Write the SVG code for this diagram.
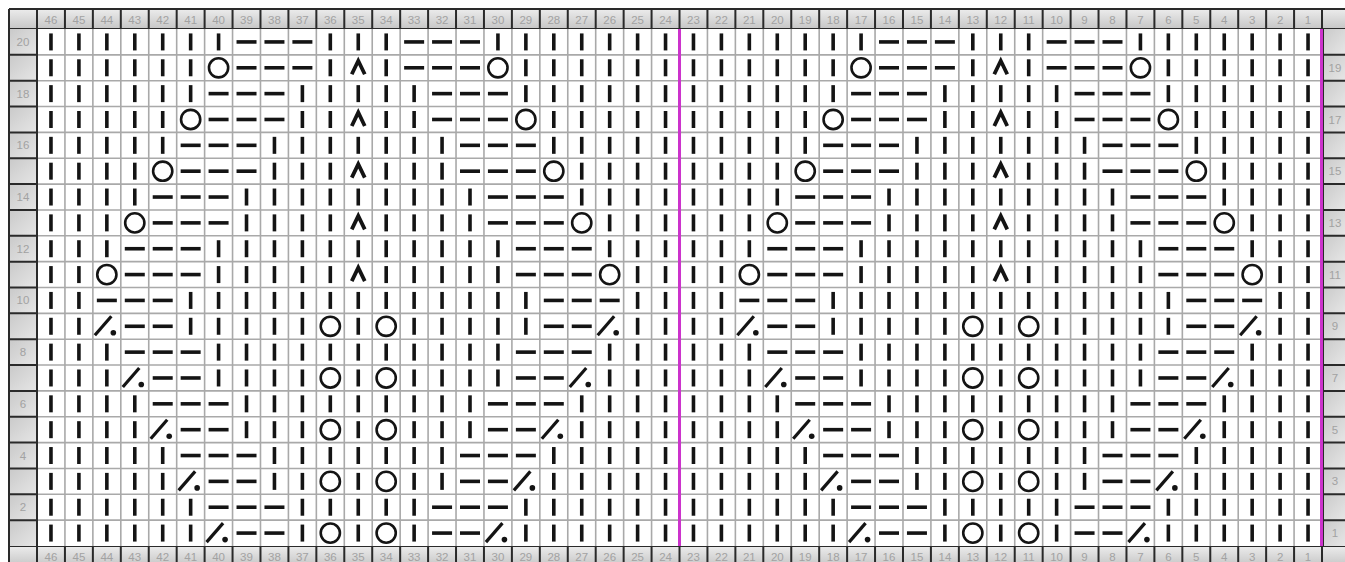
<svg xmlns="http://www.w3.org/2000/svg" xmlns:xlink="http://www.w3.org/1999/xlink" width="1345" height="562" viewBox="0 0 1345 562">
<style>
.sym{stroke:#141414;fill:none;stroke-width:3.6}
.num{font-family:"Liberation Sans",Arial,sans-serif;font-size:11.5px;fill:#a2a2a2;text-anchor:middle}
.dark{stroke:#2a2a2a;stroke-width:2;fill:none}
.grid{stroke:#a9a9a9;stroke-width:1.6;fill:none}
.mag{stroke:#cc33cc;stroke-width:3;fill:none}
</style>
<defs>
<linearGradient id="gh" x1="0" y1="0" x2="0" y2="1"><stop offset="0" stop-color="#ececec"/><stop offset="1" stop-color="#c6c6c6"/></linearGradient>
<linearGradient id="gs" x1="0" y1="0" x2="1" y2="1"><stop offset="0" stop-color="#c9c9c9"/><stop offset="1" stop-color="#e6e6e6"/></linearGradient>
<path id="k" class="sym" d="M0,-8.5V8.5"/>
<path id="p" class="sym" d="M-10,0H10"/>
<circle id="o" class="sym" r="9.6" style="stroke-width:2.6"/>
<path id="d" class="sym" d="M-6.5,6.5L0,-7L6.5,6.5" style="stroke-width:3.8;stroke-linejoin:miter"/>
<g id="s"><path class="sym" d="M-12,9L4.5,-10" style="stroke-width:3.2"/><circle cx="6.5" cy="6.5" r="2.8" fill="#141414"/></g>

<g id="r20"><use href="#k" x="0"/><use href="#k" x="27.94"/><use href="#k" x="55.87"/><use href="#k" x="83.81"/><use href="#k" x="111.74"/><use href="#k" x="139.68"/><use href="#k" x="167.61"/><use href="#p" x="195.55"/><use href="#p" x="223.48"/><use href="#p" x="251.42"/><use href="#k" x="279.35"/><use href="#k" x="307.29"/><use href="#k" x="335.22"/><use href="#p" x="363.16"/><use href="#p" x="391.09"/><use href="#p" x="419.03"/><use href="#k" x="446.96"/><use href="#k" x="474.90"/><use href="#k" x="502.83"/><use href="#k" x="530.77"/><use href="#k" x="558.70"/><use href="#k" x="586.64"/><use href="#k" x="614.57"/></g>

<g id="r19"><use href="#k" x="0"/><use href="#k" x="27.94"/><use href="#k" x="55.87"/><use href="#k" x="83.81"/><use href="#k" x="111.74"/><use href="#k" x="139.68"/><use href="#o" x="167.61"/><use href="#p" x="195.55"/><use href="#p" x="223.48"/><use href="#p" x="251.42"/><use href="#k" x="279.35"/><use href="#d" x="307.29"/><use href="#k" x="335.22"/><use href="#p" x="363.16"/><use href="#p" x="391.09"/><use href="#p" x="419.03"/><use href="#o" x="446.96"/><use href="#k" x="474.90"/><use href="#k" x="502.83"/><use href="#k" x="530.77"/><use href="#k" x="558.70"/><use href="#k" x="586.64"/><use href="#k" x="614.57"/></g>

<g id="r18"><use href="#k" x="0"/><use href="#k" x="27.94"/><use href="#k" x="55.87"/><use href="#k" x="83.81"/><use href="#k" x="111.74"/><use href="#k" x="139.68"/><use href="#p" x="167.61"/><use href="#p" x="195.55"/><use href="#p" x="223.48"/><use href="#k" x="251.42"/><use href="#k" x="279.35"/><use href="#k" x="307.29"/><use href="#k" x="335.22"/><use href="#k" x="363.16"/><use href="#p" x="391.09"/><use href="#p" x="419.03"/><use href="#p" x="446.96"/><use href="#k" x="474.90"/><use href="#k" x="502.83"/><use href="#k" x="530.77"/><use href="#k" x="558.70"/><use href="#k" x="586.64"/><use href="#k" x="614.57"/></g>

<g id="r17"><use href="#k" x="0"/><use href="#k" x="27.94"/><use href="#k" x="55.87"/><use href="#k" x="83.81"/><use href="#k" x="111.74"/><use href="#o" x="139.68"/><use href="#p" x="167.61"/><use href="#p" x="195.55"/><use href="#p" x="223.48"/><use href="#k" x="251.42"/><use href="#k" x="279.35"/><use href="#d" x="307.29"/><use href="#k" x="335.22"/><use href="#k" x="363.16"/><use href="#p" x="391.09"/><use href="#p" x="419.03"/><use href="#p" x="446.96"/><use href="#o" x="474.90"/><use href="#k" x="502.83"/><use href="#k" x="530.77"/><use href="#k" x="558.70"/><use href="#k" x="586.64"/><use href="#k" x="614.57"/></g>

<g id="r16"><use href="#k" x="0"/><use href="#k" x="27.94"/><use href="#k" x="55.87"/><use href="#k" x="83.81"/><use href="#k" x="111.74"/><use href="#p" x="139.68"/><use href="#p" x="167.61"/><use href="#p" x="195.55"/><use href="#k" x="223.48"/><use href="#k" x="251.42"/><use href="#k" x="279.35"/><use href="#k" x="307.29"/><use href="#k" x="335.22"/><use href="#k" x="363.16"/><use href="#k" x="391.09"/><use href="#p" x="419.03"/><use href="#p" x="446.96"/><use href="#p" x="474.90"/><use href="#k" x="502.83"/><use href="#k" x="530.77"/><use href="#k" x="558.70"/><use href="#k" x="586.64"/><use href="#k" x="614.57"/></g>

<g id="r15"><use href="#k" x="0"/><use href="#k" x="27.94"/><use href="#k" x="55.87"/><use href="#k" x="83.81"/><use href="#o" x="111.74"/><use href="#p" x="139.68"/><use href="#p" x="167.61"/><use href="#p" x="195.55"/><use href="#k" x="223.48"/><use href="#k" x="251.42"/><use href="#k" x="279.35"/><use href="#d" x="307.29"/><use href="#k" x="335.22"/><use href="#k" x="363.16"/><use href="#k" x="391.09"/><use href="#p" x="419.03"/><use href="#p" x="446.96"/><use href="#p" x="474.90"/><use href="#o" x="502.83"/><use href="#k" x="530.77"/><use href="#k" x="558.70"/><use href="#k" x="586.64"/><use href="#k" x="614.57"/></g>

<g id="r14"><use href="#k" x="0"/><use href="#k" x="27.94"/><use href="#k" x="55.87"/><use href="#k" x="83.81"/><use href="#p" x="111.74"/><use href="#p" x="139.68"/><use href="#p" x="167.61"/><use href="#k" x="195.55"/><use href="#k" x="223.48"/><use href="#k" x="251.42"/><use href="#k" x="279.35"/><use href="#k" x="307.29"/><use href="#k" x="335.22"/><use href="#k" x="363.16"/><use href="#k" x="391.09"/><use href="#k" x="419.03"/><use href="#p" x="446.96"/><use href="#p" x="474.90"/><use href="#p" x="502.83"/><use href="#k" x="530.77"/><use href="#k" x="558.70"/><use href="#k" x="586.64"/><use href="#k" x="614.57"/></g>

<g id="r13"><use href="#k" x="0"/><use href="#k" x="27.94"/><use href="#k" x="55.87"/><use href="#o" x="83.81"/><use href="#p" x="111.74"/><use href="#p" x="139.68"/><use href="#p" x="167.61"/><use href="#k" x="195.55"/><use href="#k" x="223.48"/><use href="#k" x="251.42"/><use href="#k" x="279.35"/><use href="#d" x="307.29"/><use href="#k" x="335.22"/><use href="#k" x="363.16"/><use href="#k" x="391.09"/><use href="#k" x="419.03"/><use href="#p" x="446.96"/><use href="#p" x="474.90"/><use href="#p" x="502.83"/><use href="#o" x="530.77"/><use href="#k" x="558.70"/><use href="#k" x="586.64"/><use href="#k" x="614.57"/></g>

<g id="r12"><use href="#k" x="0"/><use href="#k" x="27.94"/><use href="#k" x="55.87"/><use href="#p" x="83.81"/><use href="#p" x="111.74"/><use href="#p" x="139.68"/><use href="#k" x="167.61"/><use href="#k" x="195.55"/><use href="#k" x="223.48"/><use href="#k" x="251.42"/><use href="#k" x="279.35"/><use href="#k" x="307.29"/><use href="#k" x="335.22"/><use href="#k" x="363.16"/><use href="#k" x="391.09"/><use href="#k" x="419.03"/><use href="#k" x="446.96"/><use href="#p" x="474.90"/><use href="#p" x="502.83"/><use href="#p" x="530.77"/><use href="#k" x="558.70"/><use href="#k" x="586.64"/><use href="#k" x="614.57"/></g>

<g id="r11"><use href="#k" x="0"/><use href="#k" x="27.94"/><use href="#o" x="55.87"/><use href="#p" x="83.81"/><use href="#p" x="111.74"/><use href="#p" x="139.68"/><use href="#k" x="167.61"/><use href="#k" x="195.55"/><use href="#k" x="223.48"/><use href="#k" x="251.42"/><use href="#k" x="279.35"/><use href="#d" x="307.29"/><use href="#k" x="335.22"/><use href="#k" x="363.16"/><use href="#k" x="391.09"/><use href="#k" x="419.03"/><use href="#k" x="446.96"/><use href="#p" x="474.90"/><use href="#p" x="502.83"/><use href="#p" x="530.77"/><use href="#o" x="558.70"/><use href="#k" x="586.64"/><use href="#k" x="614.57"/></g>

<g id="r10"><use href="#k" x="0"/><use href="#k" x="27.94"/><use href="#p" x="55.87"/><use href="#p" x="83.81"/><use href="#p" x="111.74"/><use href="#k" x="139.68"/><use href="#k" x="167.61"/><use href="#k" x="195.55"/><use href="#k" x="223.48"/><use href="#k" x="251.42"/><use href="#k" x="279.35"/><use href="#k" x="307.29"/><use href="#k" x="335.22"/><use href="#k" x="363.16"/><use href="#k" x="391.09"/><use href="#k" x="419.03"/><use href="#k" x="446.96"/><use href="#k" x="474.90"/><use href="#p" x="502.83"/><use href="#p" x="530.77"/><use href="#p" x="558.70"/><use href="#k" x="586.64"/><use href="#k" x="614.57"/></g>

<g id="r9"><use href="#k" x="0"/><use href="#k" x="27.94"/><use href="#s" x="55.87"/><use href="#p" x="83.81"/><use href="#p" x="111.74"/><use href="#k" x="139.68"/><use href="#k" x="167.61"/><use href="#k" x="195.55"/><use href="#k" x="223.48"/><use href="#k" x="251.42"/><use href="#o" x="279.35"/><use href="#k" x="307.29"/><use href="#o" x="335.22"/><use href="#k" x="363.16"/><use href="#k" x="391.09"/><use href="#k" x="419.03"/><use href="#k" x="446.96"/><use href="#k" x="474.90"/><use href="#p" x="502.83"/><use href="#p" x="530.77"/><use href="#s" x="558.70"/><use href="#k" x="586.64"/><use href="#k" x="614.57"/></g>

<g id="r7"><use href="#k" x="0"/><use href="#k" x="27.94"/><use href="#k" x="55.87"/><use href="#s" x="83.81"/><use href="#p" x="111.74"/><use href="#p" x="139.68"/><use href="#k" x="167.61"/><use href="#k" x="195.55"/><use href="#k" x="223.48"/><use href="#k" x="251.42"/><use href="#o" x="279.35"/><use href="#k" x="307.29"/><use href="#o" x="335.22"/><use href="#k" x="363.16"/><use href="#k" x="391.09"/><use href="#k" x="419.03"/><use href="#k" x="446.96"/><use href="#p" x="474.90"/><use href="#p" x="502.83"/><use href="#s" x="530.77"/><use href="#k" x="558.70"/><use href="#k" x="586.64"/><use href="#k" x="614.57"/></g>

<g id="r5"><use href="#k" x="0"/><use href="#k" x="27.94"/><use href="#k" x="55.87"/><use href="#k" x="83.81"/><use href="#s" x="111.74"/><use href="#p" x="139.68"/><use href="#p" x="167.61"/><use href="#k" x="195.55"/><use href="#k" x="223.48"/><use href="#k" x="251.42"/><use href="#o" x="279.35"/><use href="#k" x="307.29"/><use href="#o" x="335.22"/><use href="#k" x="363.16"/><use href="#k" x="391.09"/><use href="#k" x="419.03"/><use href="#p" x="446.96"/><use href="#p" x="474.90"/><use href="#s" x="502.83"/><use href="#k" x="530.77"/><use href="#k" x="558.70"/><use href="#k" x="586.64"/><use href="#k" x="614.57"/></g>

<g id="r3"><use href="#k" x="0"/><use href="#k" x="27.94"/><use href="#k" x="55.87"/><use href="#k" x="83.81"/><use href="#k" x="111.74"/><use href="#s" x="139.68"/><use href="#p" x="167.61"/><use href="#p" x="195.55"/><use href="#k" x="223.48"/><use href="#k" x="251.42"/><use href="#o" x="279.35"/><use href="#k" x="307.29"/><use href="#o" x="335.22"/><use href="#k" x="363.16"/><use href="#k" x="391.09"/><use href="#p" x="419.03"/><use href="#p" x="446.96"/><use href="#s" x="474.90"/><use href="#k" x="502.83"/><use href="#k" x="530.77"/><use href="#k" x="558.70"/><use href="#k" x="586.64"/><use href="#k" x="614.57"/></g>

<g id="r1"><use href="#k" x="0"/><use href="#k" x="27.94"/><use href="#k" x="55.87"/><use href="#k" x="83.81"/><use href="#k" x="111.74"/><use href="#k" x="139.68"/><use href="#s" x="167.61"/><use href="#p" x="195.55"/><use href="#p" x="223.48"/><use href="#k" x="251.42"/><use href="#o" x="279.35"/><use href="#k" x="307.29"/><use href="#o" x="335.22"/><use href="#k" x="363.16"/><use href="#p" x="391.09"/><use href="#p" x="419.03"/><use href="#s" x="446.96"/><use href="#k" x="474.90"/><use href="#k" x="502.83"/><use href="#k" x="530.77"/><use href="#k" x="558.70"/><use href="#k" x="586.64"/><use href="#k" x="614.57"/></g>

<g id="hn" class="num">
<text x="50.97">46</text><text x="78.90">45</text><text x="106.84">44</text><text x="134.77">43</text><text x="162.71">42</text><text x="190.64">41</text><text x="218.58">40</text><text x="246.51">39</text><text x="274.45">38</text><text x="302.38">37</text><text x="330.32">36</text><text x="358.25">35</text><text x="386.19">34</text><text x="414.12">33</text><text x="442.06">32</text><text x="469.99">31</text><text x="497.93">30</text><text x="525.86">29</text><text x="553.80">28</text><text x="581.73">27</text><text x="609.67">26</text><text x="637.60">25</text><text x="665.54">24</text><text x="693.47">23</text><text x="721.41">22</text><text x="749.34">21</text><text x="777.28">20</text><text x="805.21">19</text><text x="833.15">18</text><text x="861.08">17</text><text x="889.02">16</text><text x="916.95">15</text><text x="944.89">14</text><text x="972.82">13</text><text x="1000.76">12</text><text x="1028.69">11</text><text x="1056.63">10</text><text x="1084.56">9</text><text x="1112.50">8</text><text x="1140.43">7</text><text x="1168.37">6</text><text x="1196.30">5</text><text x="1224.24">4</text><text x="1252.17">3</text><text x="1280.11">2</text><text x="1308.04">1</text>
</g>
<path id="hdiv" class="dark" d="M9,0v20M37,0v20M64.94,0v20M92.87,0v20M120.81,0v20M148.74,0v20M176.68,0v20M204.61,0v20M232.55,0v20M260.48,0v20M288.42,0v20M316.35,0v20M344.29,0v20M372.22,0v20M400.16,0v20M428.09,0v20M456.03,0v20M483.96,0v20M511.90,0v20M539.83,0v20M567.77,0v20M595.70,0v20M623.64,0v20M651.57,0v20M679.51,0v20M707.44,0v20M735.38,0v20M763.31,0v20M791.25,0v20M819.18,0v20M847.12,0v20M875.05,0v20M902.99,0v20M930.92,0v20M958.86,0v20M986.79,0v20M1014.73,0v20M1042.66,0v20M1070.60,0v20M1098.53,0v20M1126.47,0v20M1154.40,0v20M1182.34,0v20M1210.27,0v20M1238.21,0v20M1266.14,0v20M1294.08,0v20M1322.01,0v20"/>
</defs>

<rect x="0" y="0" width="1345" height="562" fill="#ffffff"/>

<g id="header">
<rect x="9" y="9" width="1336" height="20" fill="url(#gh)"/>
<rect x="9" y="546" width="1336" height="20" fill="url(#gh)"/>
<use href="#hdiv" y="9"/>
<use href="#hdiv" y="546"/>
<path class="dark" d="M9,9H1345M9,29H1345M9,546H1345"/>
<use href="#hn" y="23.5"/>
<use href="#hn" y="560.5"/>
</g>

<g id="sides">
<g fill="url(#gs)">
<rect x="9" y="29" width="28" height="25.85"/><rect x="9" y="54.85" width="28" height="25.85"/><rect x="9" y="80.70" width="28" height="25.85"/><rect x="9" y="106.55" width="28" height="25.85"/><rect x="9" y="132.40" width="28" height="25.85"/><rect x="9" y="158.25" width="28" height="25.85"/><rect x="9" y="184.10" width="28" height="25.85"/><rect x="9" y="209.95" width="28" height="25.85"/><rect x="9" y="235.80" width="28" height="25.85"/><rect x="9" y="261.65" width="28" height="25.85"/><rect x="9" y="287.50" width="28" height="25.85"/><rect x="9" y="313.35" width="28" height="25.85"/><rect x="9" y="339.20" width="28" height="25.85"/><rect x="9" y="365.05" width="28" height="25.85"/><rect x="9" y="390.90" width="28" height="25.85"/><rect x="9" y="416.75" width="28" height="25.85"/><rect x="9" y="442.60" width="28" height="25.85"/><rect x="9" y="468.45" width="28" height="25.85"/><rect x="9" y="494.30" width="28" height="25.85"/><rect x="9" y="520.15" width="28" height="25.85"/>
<rect x="1322" y="29" width="23" height="25.85"/><rect x="1322" y="54.85" width="23" height="25.85"/><rect x="1322" y="80.70" width="23" height="25.85"/><rect x="1322" y="106.55" width="23" height="25.85"/><rect x="1322" y="132.40" width="23" height="25.85"/><rect x="1322" y="158.25" width="23" height="25.85"/><rect x="1322" y="184.10" width="23" height="25.85"/><rect x="1322" y="209.95" width="23" height="25.85"/><rect x="1322" y="235.80" width="23" height="25.85"/><rect x="1322" y="261.65" width="23" height="25.85"/><rect x="1322" y="287.50" width="23" height="25.85"/><rect x="1322" y="313.35" width="23" height="25.85"/><rect x="1322" y="339.20" width="23" height="25.85"/><rect x="1322" y="365.05" width="23" height="25.85"/><rect x="1322" y="390.90" width="23" height="25.85"/><rect x="1322" y="416.75" width="23" height="25.85"/><rect x="1322" y="442.60" width="23" height="25.85"/><rect x="1322" y="468.45" width="23" height="25.85"/><rect x="1322" y="494.30" width="23" height="25.85"/><rect x="1322" y="520.15" width="23" height="25.85"/>
</g>
<path class="dark" d="M9,9V562M37,29V546M9,54.85H37M9,80.70H37M9,106.55H37M9,132.40H37M9,158.25H37M9,184.10H37M9,209.95H37M9,235.80H37M9,261.65H37M9,287.50H37M9,313.35H37M9,339.20H37M9,365.05H37M9,390.90H37M9,416.75H37M9,442.60H37M9,468.45H37M9,494.30H37M9,520.15H37M1323,29V546M1323,54.85H1345M1323,80.70H1345M1323,106.55H1345M1323,132.40H1345M1323,158.25H1345M1323,184.10H1345M1323,209.95H1345M1323,235.80H1345M1323,261.65H1345M1323,287.50H1345M1323,313.35H1345M1323,339.20H1345M1323,365.05H1345M1323,390.90H1345M1323,416.75H1345M1323,442.60H1345M1323,468.45H1345M1323,494.30H1345M1323,520.15H1345"/>
<g class="num">
<text x="23" y="45.9">20</text><text x="23" y="97.6">18</text><text x="23" y="149.3">16</text><text x="23" y="201">14</text><text x="23" y="252.7">12</text><text x="23" y="304.4">10</text><text x="23" y="356.1">8</text><text x="23" y="407.8">6</text><text x="23" y="459.5">4</text><text x="23" y="511.2">2</text>
<text x="1335" y="71.8">19</text><text x="1335" y="123.5">17</text><text x="1335" y="175.2">15</text><text x="1335" y="226.9">13</text><text x="1335" y="278.6">11</text><text x="1335" y="330.3">9</text><text x="1335" y="382">7</text><text x="1335" y="433.7">5</text><text x="1335" y="485.4">3</text><text x="1335" y="537.1">1</text>
</g>
</g>

<g id="grid">
<rect x="37" y="29" width="1285" height="517" fill="#ffffff"/>
<path class="grid" d="M64.94,29V546M92.87,29V546M120.81,29V546M148.74,29V546M176.68,29V546M204.61,29V546M232.55,29V546M260.48,29V546M288.42,29V546M316.35,29V546M344.29,29V546M372.22,29V546M400.16,29V546M428.09,29V546M456.03,29V546M483.96,29V546M511.90,29V546M539.83,29V546M567.77,29V546M595.70,29V546M623.64,29V546M651.57,29V546M707.44,29V546M735.38,29V546M763.31,29V546M791.25,29V546M819.18,29V546M847.12,29V546M875.05,29V546M902.99,29V546M930.92,29V546M958.86,29V546M986.79,29V546M1014.73,29V546M1042.66,29V546M1070.60,29V546M1098.53,29V546M1126.47,29V546M1154.40,29V546M1182.34,29V546M1210.27,29V546M1238.21,29V546M1266.14,29V546M1294.08,29V546M37,54.85H1322M37,80.70H1322M37,106.55H1322M37,132.40H1322M37,158.25H1322M37,184.10H1322M37,209.95H1322M37,235.80H1322M37,261.65H1322M37,287.50H1322M37,313.35H1322M37,339.20H1322M37,365.05H1322M37,390.90H1322M37,416.75H1322M37,442.60H1322M37,468.45H1322M37,494.30H1322M37,520.15H1322"/>
<path class="dark" d="M37,29V546"/>
<path class="mag" d="M679.51,29V546M1321.5,29V546"/>
</g>

<g id="stitches">
<use href="#r20" x="50.97" y="41.93"/><use href="#r20" x="693.47" y="41.93"/>
<use href="#r19" x="50.97" y="67.78"/><use href="#r19" x="693.47" y="67.78"/>
<use href="#r18" x="50.97" y="93.63"/><use href="#r18" x="693.47" y="93.63"/>
<use href="#r17" x="50.97" y="119.48"/><use href="#r17" x="693.47" y="119.48"/>
<use href="#r16" x="50.97" y="145.33"/><use href="#r16" x="693.47" y="145.33"/>
<use href="#r15" x="50.97" y="171.18"/><use href="#r15" x="693.47" y="171.18"/>
<use href="#r14" x="50.97" y="197.03"/><use href="#r14" x="693.47" y="197.03"/>
<use href="#r13" x="50.97" y="222.88"/><use href="#r13" x="693.47" y="222.88"/>
<use href="#r12" x="50.97" y="248.73"/><use href="#r12" x="693.47" y="248.73"/>
<use href="#r11" x="50.97" y="274.58"/><use href="#r11" x="693.47" y="274.58"/>
<use href="#r10" x="50.97" y="300.43"/><use href="#r10" x="693.47" y="300.43"/>
<use href="#r9" x="50.97" y="326.28"/><use href="#r9" x="693.47" y="326.28"/>
<use href="#r12" x="50.97" y="352.13"/><use href="#r12" x="693.47" y="352.13"/>
<use href="#r7" x="50.97" y="377.98"/><use href="#r7" x="693.47" y="377.98"/>
<use href="#r14" x="50.97" y="403.83"/><use href="#r14" x="693.47" y="403.83"/>
<use href="#r5" x="50.97" y="429.68"/><use href="#r5" x="693.47" y="429.68"/>
<use href="#r16" x="50.97" y="455.53"/><use href="#r16" x="693.47" y="455.53"/>
<use href="#r3" x="50.97" y="481.38"/><use href="#r3" x="693.47" y="481.38"/>
<use href="#r18" x="50.97" y="507.23"/><use href="#r18" x="693.47" y="507.23"/>
<use href="#r1" x="50.97" y="533.08"/><use href="#r1" x="693.47" y="533.08"/>
</g>
</svg>
